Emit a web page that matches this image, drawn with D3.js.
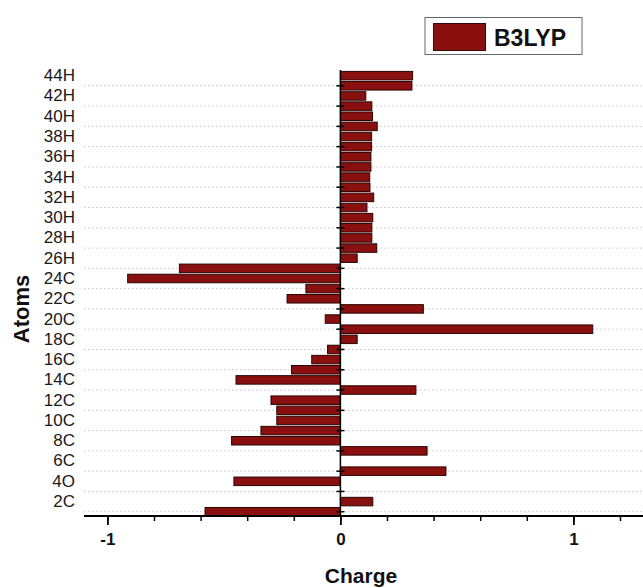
<!DOCTYPE html>
<html>
<head>
<meta charset="utf-8">
<script src="https://cdn.jsdelivr.net/npm/d3@7"></script>
<style>
  body { margin: 0; background: #fff; }
  svg { font-family: "Liberation Sans", Arial, sans-serif; }
</style>
</head>
<body>
<div id="chart"></div>
<script>
const width = 643;
const height = 588;

// atom labels, bottom (1) to top (44)
const atoms = [
    "1C", "2C", "3C", "4O", "5C", "6C", "7C", "8C", "9C", "10C",
    "11C", "12C", "13C", "14C", "15C", "16C", "17C", "18C", "19C", "20C",
    "21C", "22C", "23C", "24C", "25C", "26H", "27H", "28H", "29H", "30H",
    "31H", "32H", "33H", "34H", "35H", "36H", "37H", "38H", "39H", "40H",
    "41H", "42H", "43H", "44H"
];
const charges = [
    -0.581, 0.139, 0.0, -0.457, 0.453, 0.0, 0.372, -0.467, -0.341, -0.273,
    -0.273, -0.298, 0.324, -0.448, -0.210, -0.123, -0.055, 0.072, 1.083, -0.065,
    0.356, -0.229, -0.148, -0.913, -0.691, 0.072, 0.156, 0.135, 0.135, 0.139,
    0.114, 0.143, 0.127, 0.126, 0.131, 0.131, 0.134, 0.134, 0.158, 0.138,
    0.135, 0.109, 0.307, 0.310
];
const seriesName = "B3LYP";
const labelAtoms = atoms.filter((d, i) => i % 2 === 1);   // 2C, 4O, ... 44H
const gridAtoms = atoms.filter((d, i) => i % 2 === 0);    // 1C, 3C, ... 43H
const majorTicks = [-1, 0, 1];
const minorTicks = [-1.0, -0.8, -0.6, -0.4, -0.2, 0, 0.2, 0.4, 0.6, 0.8, 1.0, 1.2];

const data = atoms.map((a, i) => ({ atom: a, charge: charges[i] }));

const barColor = "#8a0f0f";
const axisY = 516;

const svg = d3.select("#chart")
    .append("svg")
    .attr("width", width)
    .attr("height", height);

const x = d3.scaleLinear()
    .domain([-1.1, 1.3])
    .range([84.1, 643.3]);

const y = d3.scaleBand()
    .domain(atoms)
    .range([516.8, 70.6])
    .paddingInner(0.16)
    .paddingOuter(0.08);

// dotted gridlines
svg.append("g")
    .selectAll("line")
    .data(gridAtoms)
    .join("line")
    .attr("x1", 84)
    .attr("x2", width)
    .attr("y1", d => y(d) + y.bandwidth() / 2)
    .attr("y2", d => y(d) + y.bandwidth() / 2)
    .attr("stroke", "#c4c4c4")
    .attr("stroke-width", 1)
    .attr("stroke-dasharray", "1.5,2.5");

// bars
svg.append("g")
    .selectAll("rect")
    .data(data.filter(d => d.charge !== 0))
    .join("rect")
    .attr("x", d => x(Math.min(0, d.charge)))
    .attr("y", d => y(d.atom))
    .attr("width", d => Math.abs(x(d.charge) - x(0)))
    .attr("height", y.bandwidth())
    .attr("fill", barColor)
    .attr("stroke", "#2a0505")
    .attr("stroke-width", 1);

// zero line with small ticks at the gridline rows
const zeroAxis = svg.append("g")
    .attr("transform", `translate(${x(0)},0)`)
    .call(d3.axisLeft(y).tickValues(gridAtoms).tickSize(5).tickSizeOuter(0).tickFormat(""));
zeroAxis.select(".domain").remove();
zeroAxis.selectAll(".tick line").attr("x2", -4).attr("x1", 4).attr("stroke", "#000").attr("stroke-width", 1.5);
svg.append("line")
    .attr("x1", x(0)).attr("x2", x(0))
    .attr("y1", 70).attr("y2", axisY)
    .attr("stroke", "#000")
    .attr("stroke-width", 1.5);

// atom labels on the left
const labelAxis = svg.append("g")
    .attr("transform", "translate(78,0)")
    .call(d3.axisLeft(y).tickValues(labelAtoms).tickSize(0).tickPadding(3));
labelAxis.select(".domain").remove();
labelAxis.selectAll("text")
    .attr("font-size", 17)
    .attr("font-family", "Liberation Sans, Arial, sans-serif")
    .attr("fill", "#1a1a1a");

// x axis: minor ticks then major ticks with labels
const minorAxis = svg.append("g")
    .attr("transform", `translate(0,${axisY})`)
    .call(d3.axisBottom(x).tickValues(minorTicks).tickSize(5).tickFormat(""));
minorAxis.select(".domain").remove();
minorAxis.selectAll(".tick line").attr("stroke-width", 1.5);

const xAxis = svg.append("g")
    .attr("transform", `translate(0,${axisY})`)
    .call(d3.axisBottom(x).tickValues(majorTicks).tickSize(9).tickSizeOuter(0)
        .tickFormat(d3.format("d")).tickPadding(8));
xAxis.select(".domain").attr("stroke-width", 1.8).attr("d", `M84,0H${width}`);
xAxis.selectAll(".tick line").attr("stroke-width", 1.8);
xAxis.selectAll("text")
    .attr("font-size", 17)
    .attr("font-weight", "bold")
    .attr("font-family", "Liberation Sans, Arial, sans-serif")
    .attr("fill", "#111")
    .text(d => d < 0 ? "-" + Math.abs(d) : d);

// axis titles
svg.append("text")
    .attr("x", 361)
    .attr("y", 583)
    .attr("text-anchor", "middle")
    .attr("font-size", 21)
    .attr("font-weight", "bold")
    .attr("fill", "#111")
    .text("Charge");

svg.append("text")
    .attr("transform", "translate(29,309) rotate(-90)")
    .attr("text-anchor", "middle")
    .attr("font-size", 22)
    .attr("font-weight", "bold")
    .attr("fill", "#111")
    .text("Atoms");

// legend
const legend = svg.append("g");
legend.append("rect")
    .attr("x", 425).attr("y", 17.5)
    .attr("width", 157).attr("height", 37)
    .attr("fill", "#fff")
    .attr("stroke", "#666")
    .attr("stroke-width", 1);
legend.append("rect")
    .attr("x", 433.5).attr("y", 23.5)
    .attr("width", 52).attr("height", 27)
    .attr("fill", barColor)
    .attr("stroke", "#3a0808")
    .attr("stroke-width", 1);
legend.append("text")
    .attr("x", 494)
    .attr("y", 46)
    .attr("font-size", 23)
    .attr("font-weight", "bold")
    .attr("fill", "#111")
    .text(seriesName);
</script>
</body>
</html>
